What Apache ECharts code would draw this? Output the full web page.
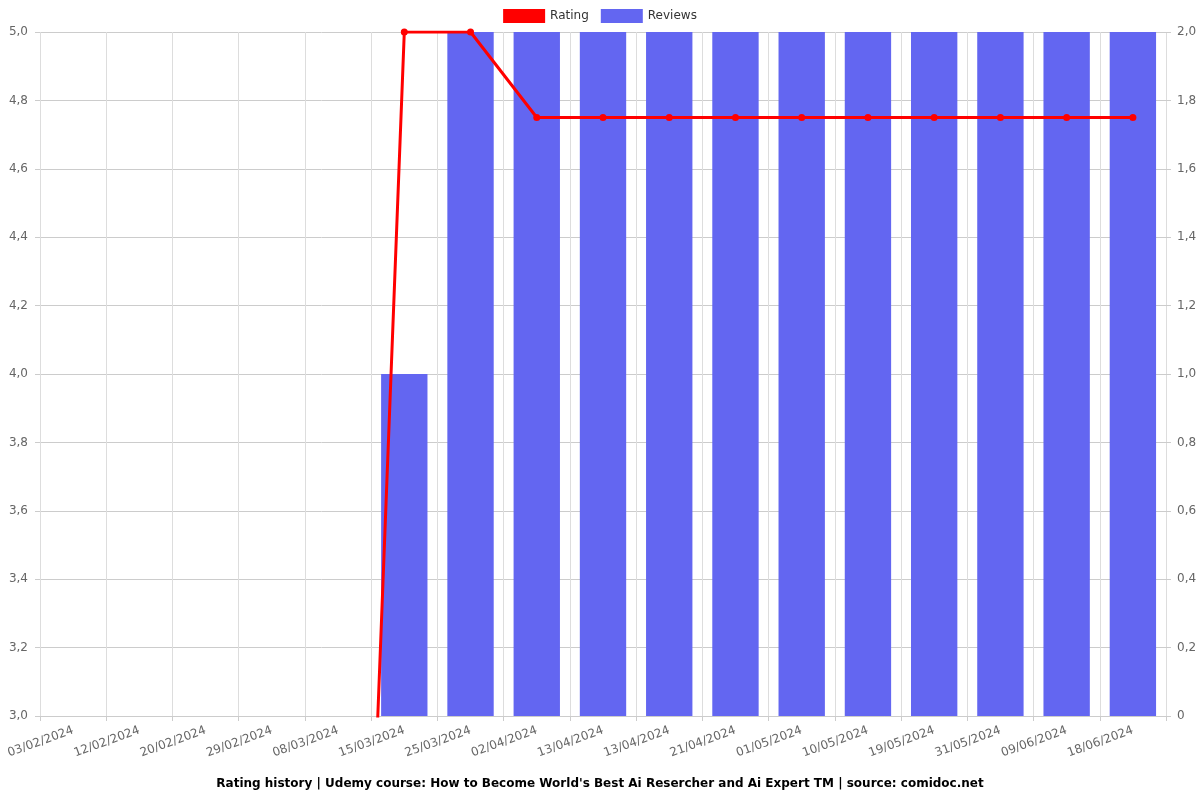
<!DOCTYPE html>
<html>
<head>
<meta charset="utf-8">
<script src="https://cdn.jsdelivr.net/npm/echarts@6/dist/echarts.min.js"></script>
<style>html,body{margin:0;padding:0;background:#fff;}#c{width:1200px;height:800px;}</style>
</head>
<body>
<div id="c"></div>
<script>
const categories = ['03/02/2024','12/02/2024','20/02/2024','29/02/2024','08/03/2024','15/03/2024','25/03/2024','02/04/2024','13/04/2024','13/04/2024','21/04/2024','01/05/2024','10/05/2024','19/05/2024','31/05/2024','09/06/2024','18/06/2024'];
const ratingValues = [0,0,0,0,0,5,5,4.75,4.75,4.75,4.75,4.75,4.75,4.75,4.75,4.75,4.75];
const reviewValues = [0,0,0,0,0,1,2,2,2,2,2,2,2,2,2,2,2];
const titleText = "Rating history | Udemy course: How to Become World's Best Ai Resercher and Ai Expert TM | source: comidoc.net";

const fmt = v => v === 0 ? '0' : v.toFixed(1).replace('.', ',');
const chart = echarts.init(document.getElementById('c'));
chart.setOption({
  animation: false,
  title: {
    text: titleText, left: 'center', top: 773,
    textStyle: { fontSize: 12, fontWeight: 'bold', color: '#000', fontFamily: 'DejaVu Sans' }
  },
  legend: {
    top: 4, left: 'center', itemWidth: 42, itemHeight: 14, itemGap: 12, icon: 'rect',
    textStyle: { fontSize: 12, color: '#333', fontFamily: 'DejaVu Sans' },
    data: ['Rating', 'Reviews']
  },
  grid: { left: 40, right: 34, top: 32, bottom: 84 },
  xAxis: {
    type: 'category', data: categories, boundaryGap: true,
    axisLine: { lineStyle: { color: '#ccc' } },
    axisTick: { show: true, lineStyle: { color: '#ccc' } },
    splitLine: { show: true, lineStyle: { color: '#ddd' } },
    axisLabel: { rotate: 20, margin: 14, color: '#666', fontSize: 12, fontFamily: 'DejaVu Sans', interval: 0 }
  },
  yAxis: [
    { type: 'value', min: 3, max: 5, interval: 0.2, position: 'left',
      axisLine: { show: false },
      axisTick: { show: true, lineStyle: { color: '#ccc' } },
      splitLine: { lineStyle: { color: '#ccc' } },
      axisLabel: { formatter: v => v.toFixed(1).replace('.', ','), margin: 12, color: '#666', fontSize: 12, fontFamily: 'DejaVu Sans' } },
    { type: 'value', min: 0, max: 2, interval: 0.2, position: 'right',
      axisLine: { show: false },
      axisTick: { show: true, lineStyle: { color: '#ccc' } },
      splitLine: { show: false },
      axisLabel: { formatter: fmt, margin: 11, color: '#666', fontSize: 12, fontFamily: 'DejaVu Sans' } }
  ],
  series: [
    { name: 'Rating', type: 'line', yAxisIndex: 0, data: ratingValues, z: 3,
      itemStyle: { color: '#ff0000' }, lineStyle: { color: '#ff0000', width: 3 },
      symbol: 'circle', symbolSize: 7, clip: true },
    { name: 'Reviews', type: 'bar', yAxisIndex: 1, data: reviewValues, barWidth: '70%', z: 2,
      itemStyle: { color: '#6366f1' } }
  ]
});
</script>
</body>
</html>
